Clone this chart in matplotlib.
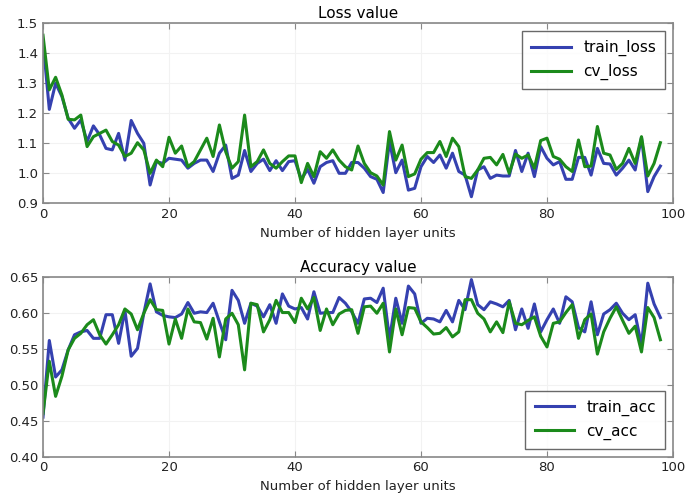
import matplotlib
matplotlib.use("Agg")
import matplotlib.pyplot as plt
import numpy as np

# values, one per hidden-layer size 0..98
train_loss = [1.44, 1.213, 1.30, 1.256, 1.183, 1.15, 1.178, 1.106, 1.158, 1.128,
              1.083, 1.078, 1.133, 1.044, 1.176, 1.133, 1.10, 0.961, 1.039, 1.033,
              1.05, 1.047, 1.044, 1.017, 1.033, 1.044, 1.044, 1.006, 1.067, 1.094,
              0.983, 0.994, 1.076, 1.006, 1.033, 1.047, 1.009, 1.042, 1.009, 1.039,
              1.042, 0.98, 1.013, 0.967, 1.022, 1.036, 1.042, 1.0, 1.0, 1.036,
              1.036, 1.017, 0.989, 0.98, 0.936, 1.106, 1.002, 1.044, 0.944, 0.95,
              1.022, 1.056, 1.036, 1.061, 1.017, 1.067, 1.006, 0.994, 0.922, 1.011,
              1.022, 0.983, 0.994, 0.991, 0.991, 1.076, 1.006, 1.067, 0.989, 1.089,
              1.05, 1.028, 1.039, 0.98, 0.98, 1.053, 1.053, 0.994, 1.083, 1.033,
              1.031, 0.994, 1.017, 1.044, 1.011, 1.12, 0.939, 0.989, 1.024]
cv_loss = [1.46, 1.278, 1.32, 1.261, 1.18, 1.178, 1.194, 1.089, 1.122, 1.133,
           1.144, 1.106, 1.094, 1.056, 1.067, 1.102, 1.078, 1.0, 1.044, 1.022,
           1.12, 1.067, 1.091, 1.022, 1.039, 1.078, 1.117, 1.056, 1.161, 1.072,
           1.017, 1.039, 1.194, 1.022, 1.039, 1.078, 1.033, 1.017, 1.039, 1.058,
           1.058, 0.969, 1.033, 0.989, 1.072, 1.05, 1.078, 1.044, 1.022, 1.011,
           1.091, 1.033, 1.002, 0.991, 0.961, 1.139, 1.044, 1.094, 0.989, 0.998,
           1.047, 1.069, 1.069, 1.106, 1.056, 1.117, 1.089, 0.989, 0.983, 1.011,
           1.05, 1.053, 1.028, 1.063, 1.0, 1.064, 1.05, 1.061, 1.017, 1.109,
           1.117, 1.056, 1.047, 1.022, 1.006, 1.111, 1.022, 1.024, 1.156, 1.067,
           1.061, 1.013, 1.033, 1.083, 1.033, 1.122, 0.991, 1.033, 1.102]
train_acc = [0.455, 0.562, 0.511, 0.521, 0.549, 0.57, 0.574, 0.576, 0.565, 0.565,
             0.598, 0.598, 0.558, 0.604, 0.54, 0.551, 0.60, 0.641, 0.602, 0.597,
             0.595, 0.594, 0.599, 0.615, 0.60, 0.602, 0.601, 0.614, 0.588, 0.563,
             0.632, 0.618, 0.586, 0.614, 0.61, 0.595, 0.612, 0.586, 0.627, 0.61,
             0.606, 0.608, 0.592, 0.63, 0.60, 0.601, 0.601, 0.622, 0.614, 0.602,
             0.586, 0.62, 0.621, 0.615, 0.635, 0.564, 0.621, 0.586, 0.638, 0.627,
             0.586, 0.593, 0.592, 0.588, 0.604, 0.588, 0.618, 0.605, 0.647, 0.612,
             0.605, 0.616, 0.613, 0.609, 0.618, 0.577, 0.606, 0.579, 0.613, 0.574,
             0.591, 0.606, 0.586, 0.623, 0.616, 0.58, 0.574, 0.616, 0.57, 0.599,
             0.605, 0.614, 0.60, 0.591, 0.598, 0.556, 0.642, 0.613, 0.594]
cv_acc = [0.46, 0.533, 0.484, 0.512, 0.549, 0.565, 0.572, 0.584, 0.591, 0.57,
          0.557, 0.57, 0.584, 0.606, 0.599, 0.577, 0.60, 0.619, 0.605, 0.604,
          0.557, 0.592, 0.565, 0.606, 0.588, 0.587, 0.564, 0.593, 0.539, 0.592,
          0.60, 0.584, 0.521, 0.614, 0.612, 0.574, 0.591, 0.618, 0.601, 0.601,
          0.587, 0.621, 0.606, 0.622, 0.576, 0.606, 0.584, 0.599, 0.604, 0.605,
          0.572, 0.609, 0.61, 0.60, 0.614, 0.546, 0.606, 0.57, 0.608, 0.607,
          0.588, 0.58, 0.571, 0.572, 0.58, 0.567, 0.574, 0.619, 0.619, 0.60,
          0.592, 0.574, 0.588, 0.573, 0.616, 0.586, 0.584, 0.59, 0.595, 0.568,
          0.553, 0.586, 0.588, 0.601, 0.612, 0.565, 0.591, 0.599, 0.543, 0.574,
          0.593, 0.609, 0.59, 0.572, 0.582, 0.546, 0.608, 0.594, 0.563]

units = np.arange(len(train_loss))

blue = '#3541b0'
green = '#1b8a1b'

plt.rcParams['font.family'] = 'DejaVu Sans'
plt.rcParams['xtick.direction'] = 'in'
plt.rcParams['ytick.direction'] = 'in'
plt.rcParams['xtick.top'] = True
plt.rcParams['ytick.right'] = True

fig = plt.figure(figsize=(6.87, 5.03), dpi=100)
ax1 = fig.add_axes([0.0626, 0.5958, 0.917, 0.358])
ax2 = fig.add_axes([0.0626, 0.0924, 0.917, 0.356])


def style(ax):
    ax.grid(True, color='#f2f2f2', linewidth=0.8)
    for s in ax.spines.values():
        s.set_color('#888888')
        s.set_linewidth(1.2)
    ax.tick_params(labelsize=9.5, length=4, color='#888888', labelcolor='#222222')
    ax.set_xlim(0, 100)
    ax.set_xticks(range(0, 101, 20))
    ax.set_xlabel('Number of hidden layer units', fontsize=9.5, color='#222222')


ax1.plot(units, train_loss, color=blue, lw=2.2, label='train_loss')
ax1.plot(units, cv_loss, color=green, lw=2.2, label='cv_loss')
ax1.set_ylim(0.9, 1.5)
ax1.set_yticks(np.arange(0.9, 1.51, 0.1))
ax1.set_title('Loss value', fontsize=11, pad=4)
style(ax1)
leg = ax1.legend(loc='upper right', fontsize=11, fancybox=False, edgecolor='#444444',
                 handlelength=2.6, borderpad=0.6, labelspacing=0.5)
leg.get_frame().set_linewidth(1)

ax2.plot(units, train_acc, color=blue, lw=2.2, label='train_acc')
ax2.plot(units, cv_acc, color=green, lw=2.2, label='cv_acc')
ax2.set_ylim(0.40, 0.65)
ax2.set_yticks(np.arange(0.40, 0.651, 0.05))
ax2.set_title('Accuracy value', fontsize=11, pad=4)
style(ax2)
leg = ax2.legend(loc='lower right', fontsize=11, fancybox=False, edgecolor='#444444',
                 handlelength=2.6, borderpad=0.6, labelspacing=0.5)
leg.get_frame().set_linewidth(1)

fig.savefig('out.png', dpi=100)
